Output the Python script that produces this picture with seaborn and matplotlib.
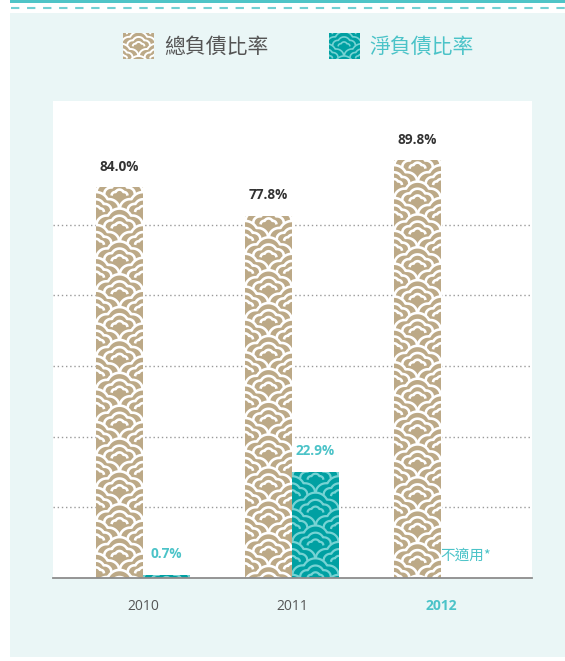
import numpy as np
import pandas as pd
import seaborn as sns
import matplotlib
matplotlib.use("Agg")
import matplotlib.pyplot as plt
from matplotlib.patches import Rectangle, Patch
from matplotlib.collections import PolyCollection, LineCollection
from matplotlib.transforms import IdentityTransform
from matplotlib.legend_handler import HandlerBase
from matplotlib.lines import Line2D

# ---- data ----
years = ["2010", "2011", "2012"]
gross_ratio = [84.0, 77.8, 89.8]          # 總負債比率 (%)
net_ratio = [0.7, 22.9, np.nan]           # 淨負債比率 (%), 2012 not applicable
series_names = ["總負債比率", "淨負債比率"]
na_text = "不適用*"
grid_levels = [15.2, 30.4, 45.6, 60.8, 76.0]

# ---- colours ----
TAN = "#bca987"
TEAL = "#00a0a2"
TEAL_TXT = "#4bc3c8"
TEAL_LINE = "#76d3d4"
MINT = "#eaf6f6"

df = pd.DataFrame({
    "year": years * 2,
    "series": [series_names[0]] * len(years) + [series_names[1]] * len(years),
    "value": gross_ratio + net_ratio,
})

sns.set_theme(style="white")
plt.rcParams["font.family"] = ["Open Sans", "Noto Sans CJK TC", "DejaVu Sans"]

W, H = 565, 661
fig = plt.figure(figsize=(W / 100, H / 100), dpi=100, facecolor="white")


def fx(px):
    return px / W


def fy(py):
    return 1 - py / H


# page background: teal rule, dashed rule, mint panel
fig.add_artist(Rectangle((fx(10), fy(3)), 1 - fx(10), 3 / H, transform=fig.transFigure,
                         facecolor="#4fc4c7", edgecolor="none", zorder=-2))
fig.add_artist(Line2D([fx(11), 1], [fy(7.7), fy(7.7)], transform=fig.transFigure,
                      color="#72d0d3", lw=1.5, linestyle=(0, (4, 3.7)), zorder=-2))
fig.add_artist(Rectangle((fx(10), fy(657)), 1 - fx(10), (657 - 12.7) / H, transform=fig.transFigure,
                         facecolor=MINT, edgecolor="none", zorder=-2))

# ---- cloud (seigaiha-like) pattern ----
CIRCLES = [(0.0, 0.35, 0.55), (-0.55, 0.15, 0.45), (0.55, 0.15, 0.45)]
RING_SCALES = [1.0, 0.66, 0.34]


def cloud_outline(s, n=48):
    xs = np.linspace(-s, s, n)
    ys = np.full(n, -np.inf)
    for cx, cy, r in CIRCLES:
        d = r * s
        inside = np.abs(xs - cx * s) <= d + 1e-9
        yy = cy * s + np.sqrt(np.clip(d ** 2 - (xs - cx * s) ** 2, 0, None))
        ys = np.where(inside, np.maximum(ys, yy), ys)
    return xs, ys


UNIT = [cloud_outline(s) for s in RING_SCALES]


def cloud_rows(x0, x1, y0, y1, a, v, start=1.0):
    """Rows of clouds covering a box, ordered back (top) to front (bottom)."""
    cx = (x0 + x1) / 2
    rows = []
    base = y1 + start * a
    k = 0
    while base > y0 - 1.2 * a:
        off = a if k % 2 else 0.0
        centers = cx + off + 2 * a * np.arange(-4, 5)
        centers = centers[(centers > x0 - 1.5 * a) & (centers < x1 + 1.5 * a)]
        fills, lines = [], []
        for c in centers:
            xs, ys = UNIT[0]
            poly = np.column_stack([c + a * xs, base + a * ys])
            poly = np.vstack([poly, [[c + a, base - 1.3 * a], [c - a, base - 1.3 * a]]])
            fills.append(poly)
            for xs_, ys_ in UNIT:
                lines.append(np.column_stack([c + a * xs_, base + a * ys_]))
        rows.append((fills, lines))
        base -= v
        k += 1
    return rows


# ---- chart ----
ax = fig.add_axes([fx(53), fy(578), fx(532) - fx(53), (578 - 101) / H])
sns.barplot(data=df, x="year", y="value", hue="series", palette=[TAN, TEAL],
            width=0.63, saturation=1, ax=ax, legend=False)

ax.set_xlim(-90 / 149, 2 + 91 / 149)
ax.set_ylim(0, 477 / 4.65)
ax.set_facecolor("white")
ax.set_xlabel("")
ax.set_ylabel("")
ax.set_yticks(grid_levels)
ax.yaxis.grid(True, color="#9a9a9a", linestyle=(0, (1, 2)), linewidth=1)
ax.xaxis.grid(False)
ax.set_axisbelow(True)
ax.tick_params(axis="y", length=0, labelleft=False)
ax.tick_params(axis="x", length=0, pad=15, labelsize=10, labelcolor="#555555")
for side in ["left", "right", "top"]:
    ax.spines[side].set_visible(False)
ax.spines["bottom"].set_color("#8c8c8c")
ax.spines["bottom"].set_linewidth(1.3)
ax.spines["bottom"].set_zorder(5)

lbl = ax.get_xticklabels()[2]
lbl.set_color(TEAL_TXT)
lbl.set_fontweight("bold")

# patterned fill on each bar
styles = [(TAN, "white", 1.9), (TEAL, TEAL_LINE, 1.6)]
for container, (face, line, lw) in zip(ax.containers, styles):
    for bar in container:
        h = bar.get_height()
        if not np.isfinite(h) or h <= 0:
            continue
        bb = bar.get_window_extent()
        a = bb.width / 2
        for k, (fills, lines) in enumerate(cloud_rows(bb.x0, bb.x1, bb.y0, bb.y1, a, 0.7 * a)):
            pc = PolyCollection(fills, facecolors=face, edgecolors="none",
                                transform=IdentityTransform(), zorder=1.2 + k * 1e-4)
            lc = LineCollection(lines, colors=line, linewidths=lw, capstyle="butt",
                                transform=IdentityTransform(), zorder=1.2 + k * 1e-4 + 5e-5)
            for coll in (pc, lc):
                ax.add_collection(coll, autolim=False)
                coll.set_clip_path(bar)

# value labels
series_values = [gross_ratio, net_ratio]
label_colors = ["#333333", TEAL_TXT]
half = 0.63 / 2
for i, (vals, col) in enumerate(zip(series_values, label_colors)):
    for idx, val in enumerate(vals):
        xc = idx + (i - 0.5) * half
        if np.isfinite(val):
            ax.annotate(f"{val:.1f}%", xy=(xc, val), xytext=(0, 15), textcoords="offset points",
                        ha="center", va="center", fontsize=9.8, fontweight="bold", color=col,
                        family=["Open Sans", "DejaVu Sans"])
        else:
            ax.annotate(na_text, xy=(xc, 0), xytext=(1, 16), textcoords="offset points",
                        ha="center", va="center", fontsize=10.5, color=col,
                        family=["Noto Sans CJK TC", "DejaVu Sans"])


# ---- legend with patterned swatches ----
class CloudHandler(HandlerBase):
    def __init__(self, face, line, lw):
        super().__init__()
        self.face, self.line, self.lw = face, line, lw

    def create_artists(self, legend, orig_handle, xdescent, ydescent, width, height, fontsize, trans):
        x0, y0 = -xdescent, -ydescent
        rect = Rectangle((x0, y0), width, height, facecolor=self.face, edgecolor="none", transform=trans)
        arts = [rect]
        a = width * 0.56
        for fills, lines in cloud_rows(x0, x0 + width, y0, y0 + height, a, 0.7 * a, start=0.6):
            pc = PolyCollection(fills, facecolors=self.face, edgecolors="none")
            lc = LineCollection(lines, colors=self.line, linewidths=self.lw, capstyle="butt")
            for coll in (pc, lc):
                coll.set_transform(trans)
                coll.set_clip_path(rect)
                arts.append(coll)
        return arts


proxies = [Patch(facecolor=TAN), Patch(facecolor=TEAL)]
leg = fig.legend(
    proxies, series_names,
    handler_map={proxies[0]: CloudHandler(TAN, "white", 1.4),
                 proxies[1]: CloudHandler(TEAL, TEAL_LINE, 1.2)},
    loc="center", bbox_to_anchor=(fx(298.5), fy(46)), ncol=2, frameon=False,
    prop={"family": ["Noto Sans CJK TC", "DejaVu Sans"], "size": 15},
    handlelength=1.49, handleheight=1.49, handletextpad=0.48, columnspacing=2.88,
    borderpad=0, borderaxespad=0,
)
leg.get_texts()[0].set_color("#555555")
leg.get_texts()[1].set_color(TEAL_TXT)

fig.savefig("out.png", dpi=100, facecolor="white")
